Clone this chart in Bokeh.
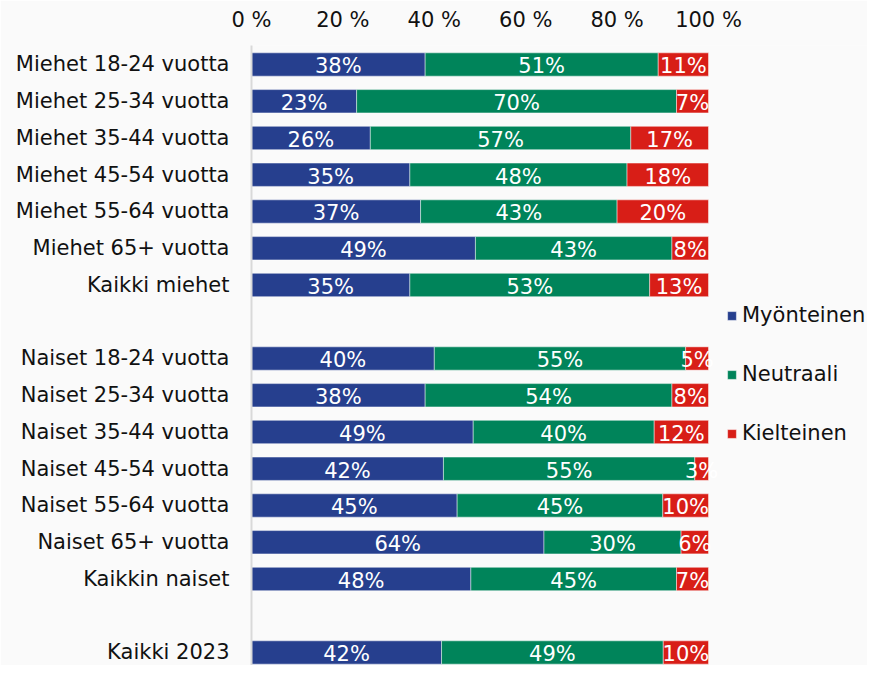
from bokeh.plotting import figure
from bokeh.models import (ColumnDataSource, Range1d, FixedTicker, Legend, LegendItem)
from bokeh.core.properties import value
from bokeh.embed import file_html
from bokeh.resources import INLINE

# ---- data ----
categories = [
    "Miehet 18-24 vuotta", "Miehet 25-34 vuotta", "Miehet 35-44 vuotta",
    "Miehet 45-54 vuotta", "Miehet 55-64 vuotta", "Miehet 65+ vuotta",
    "Kaikki miehet",
    "Naiset 18-24 vuotta", "Naiset 25-34 vuotta", "Naiset 35-44 vuotta",
    "Naiset 45-54 vuotta", "Naiset 55-64 vuotta", "Naiset 65+ vuotta",
    "Kaikkin naiset",
    "Kaikki 2023",
]
myonteinen = [38, 23, 26, 35, 37, 49, 35, 40, 38, 49, 42, 45, 64, 48, 42]
neutraali = [51, 70, 57, 48, 43, 43, 53, 55, 54, 40, 55, 45, 30, 45, 49]
kielteinen = [11, 7, 17, 18, 20, 8, 13, 5, 8, 12, 3, 10, 6, 7, 10]
series_names = ["Myönteinen", "Neutraali", "Kielteinen"]
series_colors = ["#263F8E", "#00845A", "#D81E17"]
gap_before = {"Naiset 18-24 vuotta", "Kaikki 2023"}
x_ticks = [0, 20, 40, 60, 80, 100]
x_tick_labels = ["0 %", "20 %", "40 %", "60 %", "80 %", "100 %"]

FONT = "DejaVu Sans"
FS = "21px"
BG = "#fafafa"

# slot positions (with empty slots between groups)
slots = []
s = 0
for c in categories:
    if c in gap_before:
        s += 1
    slots.append(s)
    s += 1

# normalise to 100 % stacked
pos_n, neu_n, neg_n = [], [], []
for a, b, c in zip(myonteinen, neutraali, kielteinen):
    t = a + b + c
    pos_n.append(100.0 * a / t)
    neu_n.append(100.0 * b / t)
    neg_n.append(100.0 * c / t)

source = ColumnDataSource(dict(slot=slots, pos=pos_n, neu=neu_n, neg=neg_n))

p = figure(width=867, height=665, output_backend="svg", toolbar_location=None,
           x_range=Range1d(0, 100 * 616 / 457.0),
           y_range=Range1d(slots[-1] + 0.354, -0.517),
           x_axis_location="above",
           min_border_left=251, min_border_right=0, min_border_top=45,
           min_border_bottom=0)
p.background_fill_color = BG
p.border_fill_color = BG
p.outline_line_color = None
p.grid.grid_line_color = None

renderers = p.hbar_stack(["pos", "neu", "neg"], y="slot", height=0.634,
                         color=series_colors, source=source,
                         line_color="white", line_alpha=0.45, line_width=1)

# value labels
lx, ly, lt = [], [], []
for i in range(len(categories)):
    left = 0.0
    for raw, w in zip((myonteinen[i], neutraali[i], kielteinen[i]),
                      (pos_n[i], neu_n[i], neg_n[i])):
        lx.append(left + w / 2.0)
        ly.append(slots[i])
        lt.append(f"{raw}%")
        left += w
lab_src = ColumnDataSource(dict(x=lx, y=ly, t=lt))
p.text(x="x", y="y", text="t", source=lab_src, text_color="white",
       text_font=value(FONT), text_font_size=FS, text_align="center",
       text_baseline="middle", y_offset=2)

# x axis (top)
xa = p.xaxis[0]
xa.ticker = FixedTicker(ticks=x_ticks)
xa.major_label_overrides = {t: l for t, l in zip(x_ticks, x_tick_labels)}
xa.axis_line_color = None
xa.major_tick_line_color = None
xa.minor_tick_line_color = None
xa.major_tick_out = 0
xa.major_label_standoff = 14
xa.major_label_text_font = FONT
xa.major_label_text_font_size = FS
xa.major_label_text_color = "#111111"

# y axis (left)
ya = p.yaxis[0]
ya.ticker = FixedTicker(ticks=slots)
ya.major_label_overrides = {sl: c for sl, c in zip(slots, categories)}
ya.axis_line_color = "#d9d9d9"
ya.axis_line_width = 2
ya.major_tick_line_color = None
ya.minor_tick_line_color = None
ya.major_tick_out = 0
ya.major_label_standoff = 22
ya.major_label_text_font = FONT
ya.major_label_text_font_size = FS
ya.major_label_text_color = "#111111"

legend = Legend(items=[LegendItem(label=n, renderers=[r])
                       for n, r in zip(series_names, renderers)],
                location=(475, 220), orientation="vertical",
                glyph_width=11, glyph_height=11, label_standoff=5,
                spacing=35, padding=0, margin=0,
                label_text_font=FONT, label_text_font_size=FS,
                label_text_color="#111111",
                background_fill_alpha=0, border_line_alpha=0)
p.add_layout(legend)

open("out.html", "w").write(file_html(p, INLINE))
